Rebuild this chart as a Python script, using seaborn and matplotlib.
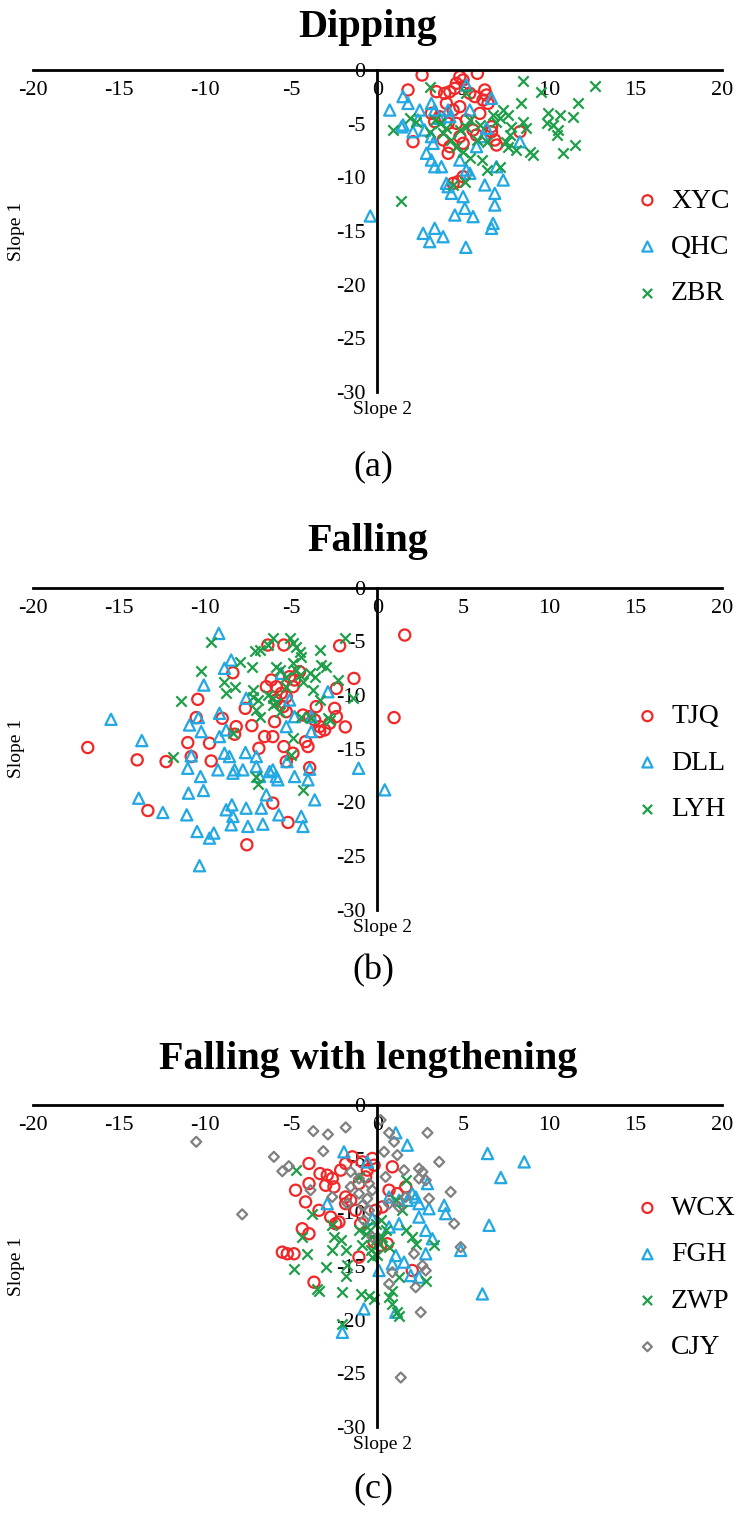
import matplotlib
matplotlib.use("Agg")
import matplotlib.pyplot as plt
import seaborn as sns

sns.set_style("white")
plt.rcParams['font.family'] = ['Liberation Serif', 'DejaVu Serif']
plt.rcParams['axes.unicode_minus'] = False
plt.rcParams['text.color'] = 'black'
plt.rcParams['axes.labelcolor'] = 'black'
plt.rcParams['xtick.color'] = 'black'
plt.rcParams['ytick.color'] = 'black'

# ---- (a) Dipping ----
xyc_x = [2.60, 5.81, 1.78, 4.79, 4.59, 4.98, 4.50, 4.21, 3.91, 3.43, 6.24, 6.34, 6.14, 6.43, 5.37, 5.66,
         4.01, 4.40, 4.79, 3.62, 4.11, 6.63, 6.63, 6.82, 6.92, 8.28, 2.07, 3.82, 4.21, 4.11, 4.79, 4.98,
         5.56, 5.76, 4.98, 4.69, 4.40, 3.14, 3.33, 5.17, 5.95, 4.59]
xyc_y = [-0.47, -0.31, -1.86, -0.62, -1.24, -0.93, -1.71, -2.02, -2.17, -2.02, -1.86, -2.33, -2.80, -3.11,
         -2.17, -2.48, -3.11, -3.73, -3.42, -4.35, -4.97, -5.28, -5.75, -6.52, -6.99, -5.75, -6.68, -6.52,
         -7.14, -7.76, -6.21, -6.83, -5.59, -6.06, -9.94, -10.40, -10.56, -4.04, -4.81, -4.66, -4.04, -4.97]

qhc_x = [1.49, 1.78, 0.72, 1.49, 2.46, 3.14, 3.33, 3.62, 2.07, 2.75, 3.14, 3.24, 2.85, 3.14, 3.33, 3.72,
         4.01, 4.30, 4.11, 4.98, 5.08, 4.50, 5.56, 2.66, 3.04, 3.33, 3.82, 5.14, -0.41, 6.63, 6.72, 6.82,
         6.82, 6.24, 7.31, 6.63, 5.17, 5.37, 6.34, 8.28, 5.17, 5.37, 6.14, 5.76, 4.11, 4.21, 4.79, 6.92,
         2.36, 1.40]
qhc_y = [-2.48, -3.11, -3.73, -5.12, -3.73, -3.11, -3.73, -4.50, -5.75, -5.59, -6.21, -6.83, -7.76, -8.39,
         -9.01, -9.01, -10.56, -11.49, -10.87, -11.80, -12.89, -13.51, -13.66, -15.22, -15.99, -14.75,
         -15.53, -16.52, -13.60, -14.75, -14.29, -12.58, -11.49, -10.71, -10.25, -2.64, -1.40, -3.73,
         -5.43, -6.68, -9.32, -9.63, -6.21, -7.14, -3.73, -4.35, -8.39, -9.01, -4.66, -5.30]

zbr_x = [3.04, 8.47, 12.64, 9.53, 8.37, 11.67, 9.92, 10.60, 11.38, 10.21, 9.83, 10.50, 10.41, 8.47, 8.66,
         7.79, 7.69, 7.50, 7.60, 8.08, 8.86, 9.05, 10.79, 11.47, 0.91, 1.40, 1.88, 2.27, 3.33, 3.62, 4.30,
         4.59, 4.98, 5.37, 6.05, 6.34, 7.11, 4.40, 5.08, 5.37, 5.95, 6.72, 7.11, 7.31, 4.79, 5.17, 3.04,
         3.82, 4.01, 5.76, 6.34, 5.17, 7.60, 6.92]
zbr_y = [-1.55, -0.99, -1.49, -2.02, -3.11, -3.04, -4.04, -4.19, -4.41, -5.12, -4.97, -5.59, -6.06, -4.81,
         -5.43, -5.28, -6.06, -6.68, -7.14, -7.45, -7.61, -7.92, -7.76, -6.99, -5.59, -12.17, -4.50, -4.81,
         -4.66, -4.97, -6.52, -7.14, -7.61, -8.23, -8.39, -9.32, -9.01, -10.71, -10.40, -4.66, -5.12, -4.19,
         -4.50, -3.73, -5.59, -5.28, -5.75, -5.90, -5.43, -6.52, -6.68, -2.17, -4.19, -4.81]

# ---- (b) Falling ----
tjq_x = [-16.82, -13.95, -13.33, -12.27, -10.43, -10.52, -11.01, -10.81, -9.75, -9.65, -9.01, -8.39, -8.29,
         -8.20, -7.67, -7.29, -7.58, -6.88, -6.55, -6.07, -6.36, -5.43, -6.07, -5.19, -5.97, -5.43, -5.29,
         -4.90, -6.16, -6.45, -5.87, -5.58, -5.29, -5.10, -4.81, -4.90, -4.52, -5.87, -5.48, -5.29, -4.32,
         -3.93, -3.55, -3.64, -3.35, -3.35, -4.17, -4.03, -3.93, -2.48, -2.38, -1.86, -2.19, -1.36, -2.38,
         0.97, 1.59, -3.06, -2.77]
tjq_y = [-14.91, -16.06, -20.78, -16.22, -10.42, -12.12, -14.45, -15.75, -14.51, -16.16, -12.19, -7.94, -13.67,
         -12.96, -11.26, -12.87, -23.97, -14.98, -13.89, -13.89, -5.36, -5.36, -20.09, -21.89, -12.50, -14.82,
         -16.22, -15.44, -8.62, -9.24, -9.24, -9.86, -10.17, -8.31, -8.62, -9.24, -7.84, -10.48, -11.10,
         -11.57, -11.88, -12.03, -11.10, -12.34, -12.96, -13.43, -14.36, -14.82, -16.78, -11.26, -12.03,
         -12.99, -5.43, -8.47, -9.40, -12.12, -4.43, -13.27, -12.65]

dll_x = [-15.47, -13.68, -13.86, -12.46, -11.07, -10.97, -11.01, -10.91, -10.39, -10.23, -10.08, -10.81,
         -10.27, -10.10, -10.47, -10.33, -9.75, -9.50, -9.21, -9.17, -9.26, -9.17, -8.88, -8.78, -8.59, -8.88,
         -8.49, -8.78, -8.45, -8.39, -8.49, -8.39, -8.29, -7.81, -7.66, -7.62, -7.52, -7.03, -7.03, -6.84,
         -6.74, -6.65, -6.45, -6.26, -6.07, -5.87, -5.78, -7.62, -5.72, -5.29, -5.10, -5.25, -4.81, -4.81,
         -4.42, -4.32, -4.03, -3.93, -3.84, -3.84, -3.64, -2.87, -1.09, 0.43, -5.58]
dll_y = [-12.28, -14.26, -19.63, -20.96, -21.18, -19.16, -16.84, -12.81, -12.12, -13.43, -9.09, -15.69,
         -17.61, -18.91, -22.73, -25.92, -23.35, -22.88, -4.28, -11.72, -16.99, -13.89, -15.44, -13.27,
         -15.75, -7.53, -6.76, -20.71, -20.25, -21.33, -22.11, -17.30, -16.99, -16.99, -15.38, -20.56,
         -22.26, -15.75, -16.68, -17.61, -20.56, -22.05, -19.32, -17.15, -16.99, -17.61, -17.92, -10.33,
         -21.18, -12.96, -10.48, -16.22, -12.03, -17.61, -21.33, -22.26, -17.92, -16.93, -13.43, -12.03,
         -19.78, -9.71, -16.84, -18.85, -8.00]

lyh_x = [-9.69, -11.43, -11.88, -10.27, -8.88, -8.29, -8.00, -8.78, -8.39, -7.29, -7.13, -6.84, -6.36, -6.07,
         -5.87, -5.68, -7.23, -7.23, -6.94, -7.03, -6.84, -6.36, -6.07, -5.87, -7.03, -6.94, -5.06, -4.90,
         -4.71, -4.52, -4.42, -4.90, -4.71, -4.52, -5.29, -5.29, -4.32, -3.93, -3.64, -3.74, -3.35, -3.35,
         -3.26, -2.97, -4.42, -3.84, -4.90, -5.00, -4.32, -1.90, -2.29, -1.41, -2.87, -2.77, -6.07, -5.68]
lyh_y = [-5.05, -10.54, -15.81, -7.75, -8.78, -9.30, -6.91, -9.86, -13.58, -7.44, -5.92, -5.83, -5.36, -4.74,
         -7.38, -7.69, -9.55, -10.17, -10.48, -11.41, -12.03, -10.02, -10.33, -10.79, -17.61, -18.29, -4.74,
         -5.21, -5.52, -5.98, -6.45, -7.07, -7.69, -8.16, -8.31, -9.24, -8.78, -8.00, -8.31, -9.55, -10.48,
         -5.83, -7.22, -7.38, -12.03, -12.19, -14.05, -15.60, -18.85, -4.74, -8.62, -10.33, -12.19, -12.34,
         -10.95, -11.57]

# ---- (c) Falling with lengthening ----
wcx_x = [-3.97, -3.33, -2.91, -2.62, -3.00, -2.52, -4.75, -4.17, -3.97, -3.39, -2.71, -2.42, -2.23, -4.36,
         -3.97, -5.52, -5.23, -4.84, -3.68, -2.13, -1.84, -1.45, -0.87, -0.29, -0.19, -0.68, -1.07, -0.58,
         0.87, 0.68, 1.16, 1.65, -1.84, -1.26, -0.97, -1.07, -0.19, 0.19, 0.58, 2.03, -1.84, -1.55, -0.10,
         0.29]
wcx_y = [-5.45, -6.39, -6.54, -6.85, -7.48, -7.63, -7.94, -9.03, -7.32, -9.81, -10.44, -11.06, -10.90, -11.53,
         -11.99, -13.71, -13.86, -13.86, -16.51, -6.07, -5.45, -4.83, -5.30, -4.98, -5.61, -6.70, -7.32, -6.07,
         -5.76, -7.94, -8.26, -7.63, -9.19, -9.81, -11.06, -14.17, -12.77, -13.08, -12.93, -15.42, -8.57,
         -8.88, -9.81, -9.50]

fgh_x = [-1.94, -0.58, 1.07, 1.74, 6.40, 8.53, 7.17, 2.91, 2.03, 2.23, 1.74, 2.42, 0.68, 1.26, 3.00, 2.42,
         3.88, 3.97, 6.49, 2.81, 3.20, 4.84, 1.07, 1.55, 0.87, 0.10, 1.94, 2.42, 2.81, 6.10, -0.78, 1.07,
         -2.03, -2.91, 0.68, 1.26, -0.29]
fgh_y = [-4.36, -5.30, -2.59, -3.74, -4.52, -5.30, -6.76, -7.32, -8.26, -8.57, -8.88, -9.19, -8.57, -8.88,
         -9.66, -10.44, -9.35, -10.12, -11.21, -11.68, -12.46, -13.55, -14.02, -14.64, -14.80, -15.42,
         -15.89, -16.04, -13.86, -17.60, -19.00, -19.31, -21.18, -9.19, -11.37, -11.06, -10.59]

zwp_x = [-4.75, -4.36, -4.07, -4.84, -3.49, -3.39, -3.00, -2.62, -2.52, -2.13, -3.78, -1.74, -1.84, -2.03,
         -2.03, -0.97, -0.48, -0.19, 0.68, 0.87, 1.16, 1.26, -1.07, -1.07, -0.68, -0.29, -0.10, 0.10, 0.29,
         0.48, -0.10, -0.39, 0.00, -0.29, 0.19, -0.58, -0.87, 0.68, 1.65, 1.07, 1.45, 1.65, 2.03, 2.23, 2.81,
         3.29, 1.26, 0.87, -2.62, -1.84]
zwp_y = [-6.07, -12.31, -13.86, -15.26, -17.13, -17.29, -15.11, -13.55, -12.31, -12.62, -10.12, -14.95,
         -15.89, -17.45, -20.40, -17.60, -17.76, -18.07, -17.91, -18.54, -19.31, -19.63, -6.70, -11.68,
         -11.99, -12.31, -12.62, -12.93, -12.31, -11.68, -11.06, -13.55, -14.02, -14.17, -10.75, -11.37,
         -13.08, -13.24, -7.01, -8.88, -9.81, -11.68, -12.31, -12.93, -16.36, -13.08, -16.04, -17.29, -11.21,
         -13.55]

cjy_x = [-10.52, -7.85, -6.01, -5.52, -5.14, -3.72, -2.87, -1.84, -3.14, -3.88, 0.19, 0.68, 0.97, 2.91, 0.39,
         1.16, 3.59, 1.55, 2.42, 2.62, 2.42, 2.81, 4.26, 3.00, 4.46, 4.84, 2.13, 2.62, 2.81, 0.87, 0.68, 2.52,
         1.36, -1.55, -1.07, -1.55, -1.07, -0.58, -0.87, -0.48, -0.29, -0.48, -0.78, 0.48, 0.68, 1.26, -2.62,
         -1.74, 1.65, -0.29, 2.23]
cjy_y = [-3.43, -10.19, -4.83, -6.17, -5.70, -2.43, -2.74, -2.09, -4.30, -7.94, -1.40, -2.59, -3.43, -2.59,
         -4.36, -4.67, -5.30, -6.07, -5.92, -6.23, -6.85, -7.01, -8.10, -8.72, -11.06, -13.24, -13.86, -14.95,
         -15.42, -15.58, -16.67, -19.31, -25.39, -6.23, -6.85, -7.63, -8.26, -8.72, -9.35, -7.32, -7.94,
         -9.81, -10.75, -6.70, -9.19, -9.50, -8.57, -9.19, -8.57, -12.31, -16.98]

RED = '#f02828'
BLUE = '#22a8e2'
GREEN = '#1f9e4a'
GREY = '#808080'

W, H = 736, 1527
fig = plt.figure(figsize=(W / 100, H / 100), dpi=100)


def draw_panel(top_px, series, title, title_px, tag, tag_px, leg_y):
    ax = fig.add_axes([33 / W, 1 - (top_px + 322) / H, 688.7 / W, 322 / H])
    for name, xs, ys, mk, col, size in series:
        if mk == 'x':
            sns.scatterplot(x=xs, y=ys, marker='x', color=col, s=size, linewidth=1.6, ax=ax, label=name)
        else:
            sns.scatterplot(x=xs, y=ys, marker=mk, color=col, facecolor='none', edgecolor=col,
                            s=size, linewidth=1.6, ax=ax, label=name)
    ax.set_xlim(-20, 20)
    ax.set_ylim(-30, 0)
    ax.set_xticks(range(-20, 21, 5))
    ax.set_yticks(range(-30, 1, 5))
    ax.spines['right'].set_visible(False)
    ax.spines['top'].set_visible(False)
    ax.spines['bottom'].set_position(('data', 0))
    ax.spines['left'].set_position(('data', 0))
    for s in ['bottom', 'left']:
        ax.spines[s].set_linewidth(2)
        ax.spines[s].set_color('black')
    ax.tick_params(axis='x', direction='inout', length=6, width=2, labelsize=16, pad=5)
    ax.tick_params(axis='y', direction='inout', length=9, width=2, labelsize=16, pad=4)
    ax.set_xlabel('Slope 2', fontsize=14)
    ax.xaxis.set_label_coords(0.507, -0.028)
    ax.set_ylabel('Slope 1', fontsize=14)
    ax.yaxis.set_label_coords(-0.012, 0.5)
    ax.legend(loc='center left', bbox_to_anchor=(0.876, leg_y), frameon=False, fontsize=20,
              markerscale=0.9, handlelength=0.8, handletextpad=0.45, labelspacing=0.75,
              borderpad=0, borderaxespad=0)
    fig.text(0.5, 1 - title_px / H, title, ha='center', va='center', fontsize=29, fontweight='bold')
    fig.text(0.507, 1 - tag_px / H, tag, ha='center', va='center', fontsize=26)
    return ax


draw_panel(70, [('XYC', xyc_x, xyc_y, 'o', RED, 65),
                ('QHC', qhc_x, qhc_y, '^', BLUE, 65),
                ('ZBR', zbr_x, zbr_y, 'x', GREEN, 55)],
           'Dipping', 27, '(a)', 467, 0.45)

draw_panel(587.5, [('TJQ', tjq_x, tjq_y, 'o', RED, 65),
                   ('DLL', dll_x, dll_y, '^', BLUE, 65),
                   ('LYH', lyh_x, lyh_y, 'x', GREEN, 55)],
           'Falling', 542, '(b)', 971, 0.455)

draw_panel(1105, [('WCX', wcx_x, wcx_y, 'o', RED, 65),
                  ('FGH', fgh_x, fgh_y, '^', BLUE, 65),
                  ('ZWP', zwp_x, zwp_y, 'x', GREEN, 55),
                  ('CJY', cjy_x, cjy_y, 'D', GREY, 26)],
           'Falling with lengthening', 1059, '(c)', 1489, 0.463)

plt.savefig('out.png', dpi=100)
